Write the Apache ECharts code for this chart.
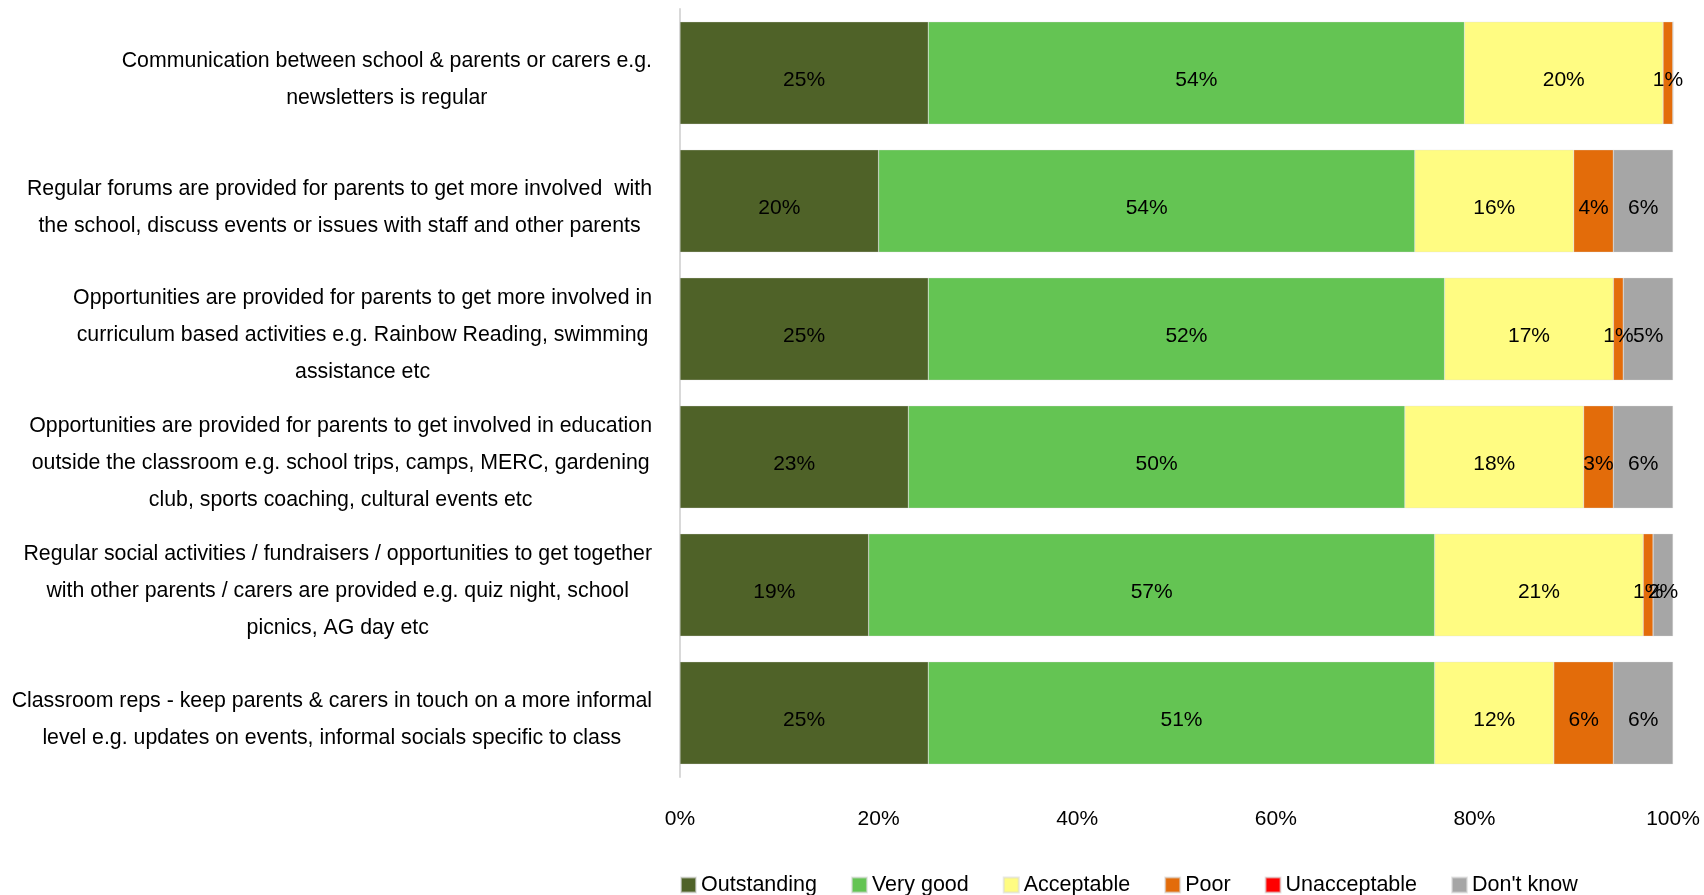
<!DOCTYPE html>
<html>
<head>
<meta charset="utf-8">
<script src="https://cdn.jsdelivr.net/npm/echarts@6/dist/echarts.min.js"></script>
<style>
  html, body { margin: 0; padding: 0; background: #fff; }
  #chart { width: 1704px; height: 895px; }
</style>
</head>
<body>
<div id="chart"></div>
<script>
// Survey statements, top to bottom
const categories = [
  ['Communication between school & parents or carers e.g.', 'newsletters is regular'],
  ['Regular forums are provided for parents to get more involved  with', 'the school, discuss events or issues with staff and other parents'],
  ['Opportunities are provided for parents to get more involved in', 'curriculum based activities e.g. Rainbow Reading, swimming', 'assistance etc'],
  ['Opportunities are provided for parents to get involved in education', 'outside the classroom e.g. school trips, camps, MERC, gardening', 'club, sports coaching, cultural events etc'],
  ['Regular social activities / fundraisers / opportunities to get together', 'with other parents / carers are provided e.g. quiz night, school', 'picnics, AG day etc'],
  ['Classroom reps - keep parents & carers in touch on a more informal', 'level e.g. updates on events, informal socials specific to class']
];

// Percentage of responses per rating, same order as categories
const outstanding  = [25, 20, 25, 23, 19, 25];
const veryGood     = [54, 54, 52, 50, 57, 51];
const acceptable   = [20, 16, 17, 18, 21, 12];
const poor         = [1, 4, 1, 3, 1, 6];
const unacceptable = [0, 0, 0, 0, 0, 0];
const dontKnow     = [0, 6, 5, 6, 2, 6];

const seriesNames  = ['Outstanding', 'Very good', 'Acceptable', 'Poor', 'Unacceptable', "Don't know"];
const seriesData   = [outstanding, veryGood, acceptable, poor, unacceptable, dontKnow];
const seriesColors = ['#4F6228', '#64C453', '#FFFC82', '#E36C0A', '#FF0000', '#A6A6A6'];
const xTicks = [0, 20, 40, 60, 80, 100];

const FONT = 'Liberation Sans, Arial, sans-serif';

// Category axis keys; the rich-text formatter centres each line inside a right-anchored block
const catKeys = categories.map((_, i) => 'c' + i);

const chart = echarts.init(document.getElementById('chart'), null, { renderer: 'canvas' });

chart.setOption({
  animation: false,
  backgroundColor: '#ffffff',
  textStyle: { fontFamily: FONT },
  grid: { left: 680, right: 31, top: 9, height: 768, containLabel: false },
  legend: {
    data: seriesNames,
    left: 680,
    top: 874,
    padding: 0,
    itemWidth: 15,
    itemHeight: 15,
    itemGap: 34,
    icon: 'rect',
    textStyle: { fontFamily: FONT, fontSize: 21.5, color: '#000' }
  },
  xAxis: {
    type: 'value',
    min: xTicks[0],
    max: xTicks[xTicks.length - 1],
    interval: 20,
    axisLine: { show: false },
    axisTick: { show: false },
    splitLine: { show: false },
    axisLabel: {
      margin: 32,
      fontFamily: FONT,
      fontSize: 21,
      color: '#000',
      formatter: v => v + '%'
    }
  },
  yAxis: {
    type: 'category',
    inverse: true,
    data: catKeys,
    axisTick: { show: false },
    axisLine: { show: true, lineStyle: { color: '#d9d9d9', width: 2 } },
    axisLabel: {
      margin: 28,
      padding: [13, 0, 0, 0],
      formatter: (key, idx) => categories[idx].map(line => '{l|' + line + '}').join('\n'),
      rich: {
        l: { align: 'center', fontFamily: FONT, fontSize: 21.3, lineHeight: 37, color: '#000' }
      }
    }
  },
  series: seriesNames.map((name, si) => ({
    name: name,
    type: 'bar',
    stack: 'total',
    barCategoryGap: '20%',
    itemStyle: { color: seriesColors[si], borderColor: 'rgba(217,217,217,0.6)', borderWidth: 0.5 },
    label: {
      show: true,
      position: 'inside',
      offset: [0, 7],
      fontFamily: FONT,
      fontSize: 21,
      color: '#000',
      formatter: p => (p.value > 0 ? p.value + '%' : '')
    },
    data: seriesData[si]
  }))
});
</script>
</body>
</html>
